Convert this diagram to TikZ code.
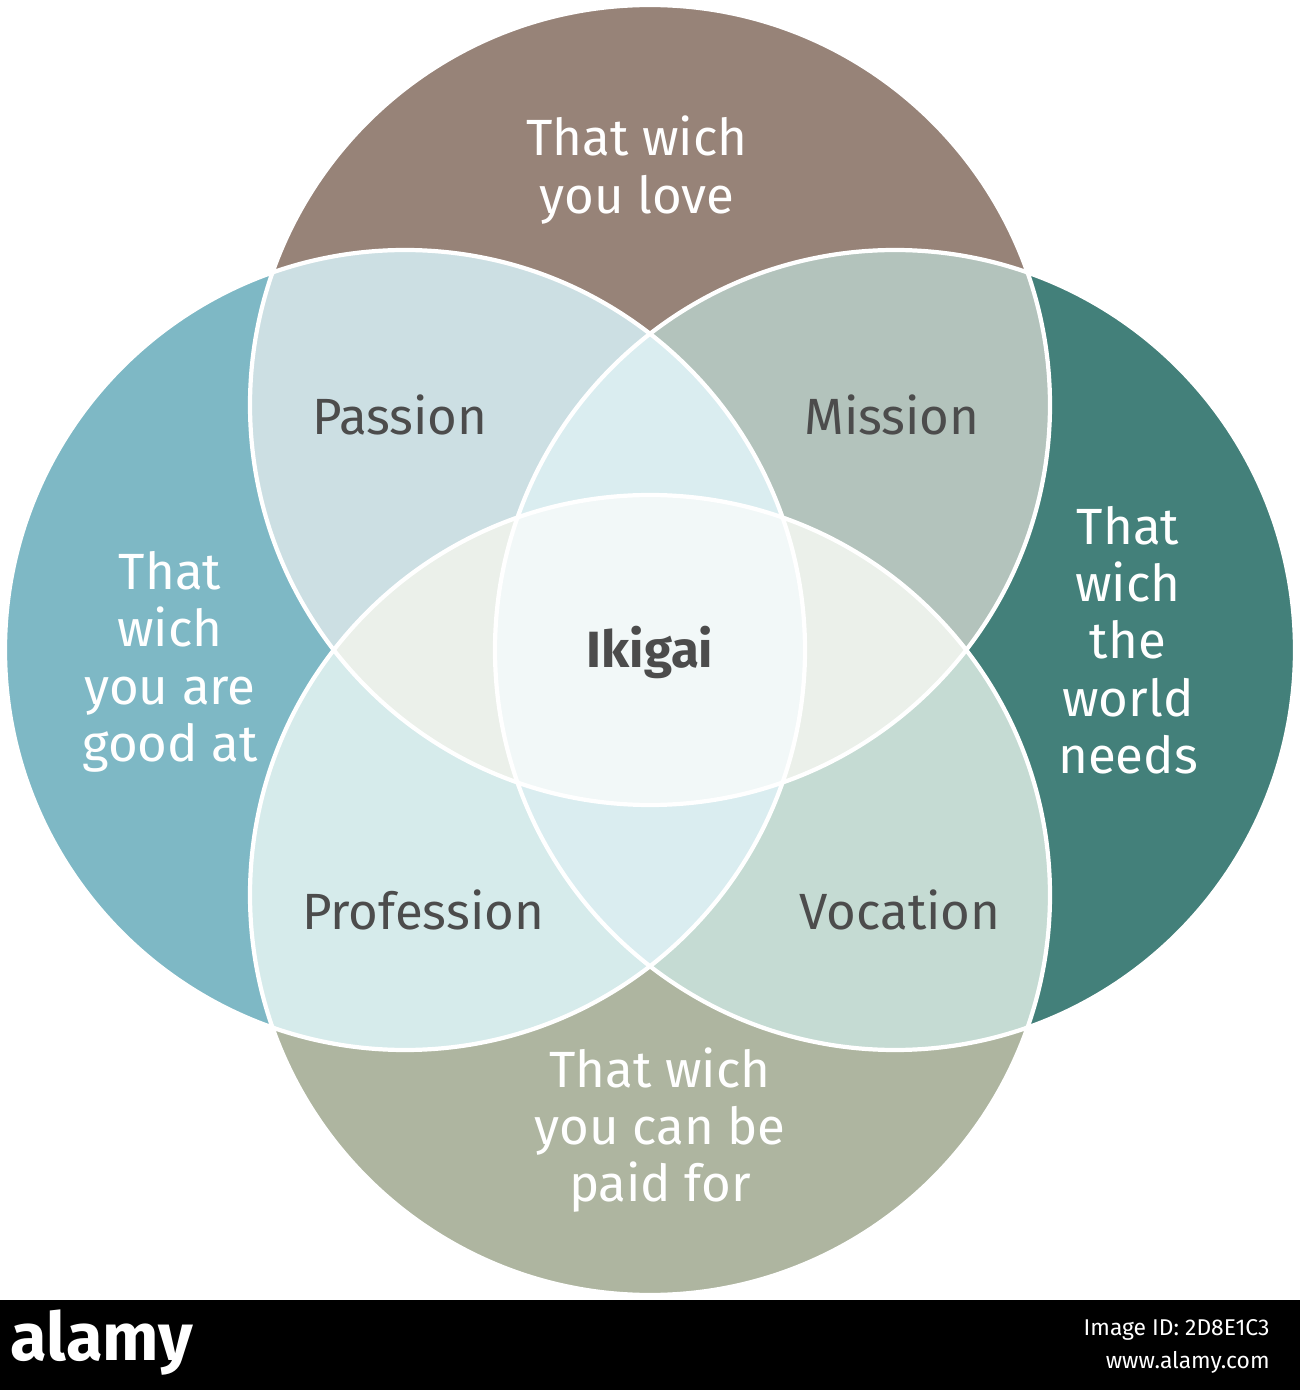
\documentclass[tikz,border=0pt]{standalone}
\usepackage{fontspec}
\setmainfont{Fira Sans}
\definecolor{love}{HTML}{978378}
\definecolor{good}{HTML}{7EB8C5}
\definecolor{world}{HTML}{43807A}
\definecolor{paid}{HTML}{AEB5A0}
\definecolor{passion}{HTML}{CCDFE3}
\definecolor{mission}{HTML}{B3C3BC}
\definecolor{profession}{HTML}{D6EBEB}
\definecolor{vocation}{HTML}{C5DBD3}
\definecolor{lensh}{HTML}{EBF0EA}
\definecolor{lensv}{HTML}{DAEDF0}
\definecolor{core}{HTML}{F2F8F8}
\tikzset{
	lbl/.style={align=center, font=\fontsize{14.5}{16.3}\selectfont},
	outer/.style={lbl, text=white},
	inner/.style={lbl, text=black!70},
}
\begin{document}
\begin{tikzpicture}
	\useasboundingbox (0, 0) rectangle (13, 13.9);
	\def\T{(6.5, 9.85) circle (4)}
	\def\L{(4.05, 7.4) circle (4)}
	\def\R{(8.95, 7.4) circle (4)}
	\def\B{(6.5, 4.95) circle (4)}

	\fill[love] \T;
	\fill[paid] \B;
	\fill[good] \L;
	\fill[world] \R;

	\begin{scope} \clip \T; \fill[passion] \L; \fill[mission] \R; \end{scope}
	\begin{scope} \clip \B; \fill[profession] \L; \fill[vocation] \R; \end{scope}
	\begin{scope} \clip \T; \fill[lensh] \B; \end{scope}
	\begin{scope} \clip \L; \fill[lensv] \R; \end{scope}
	\begin{scope} \clip \T; \clip \B; \clip \L; \fill[core] \R; \end{scope}

	\draw[white, line width=1.2pt] \T \L \R \B;

	\node[outer] (love) at (6.37, 12.2) {That wich\\you love};
	\node[outer] (good) at (1.7, 7.28) {That\\wich\\you are\\good at};
	\node[outer] (world) at (11.28, 7.5) {That\\wich\\the\\world\\needs};
	\node[outer] (paid) at (6.6, 2.6) {That wich\\you can be\\paid for};
	\node[inner] (passion) at (4, 9.75) {Passion};
	\node[inner] (mission) at (8.92, 9.75) {Mission};
	\node[inner] (profession) at (4.23, 4.8) {Profession};
	\node[inner] (vocation) at (9, 4.8) {Vocation};
	\node[inner, font=\fontsize{14.5}{16.3}\selectfont\bfseries] (ikigai) at (6.5, 7.38) {Ikigai};

	\fill[black] (0, 0) rectangle (13, 0.9);
	\node[white, font=\fontsize{19}{19}\selectfont\bfseries] (brand) at (1.02, 0.47) {alamy};
	\node[white, anchor=east, font=\fontsize{6.5}{8}\selectfont] (imgid) at (12.82, 0.6) {Image ID: 2D8E1C3};
	\node[white, anchor=east, font=\fontsize{6.5}{8}\selectfont] (site) at (12.82, 0.28) {www.alamy.com};
\end{tikzpicture}
\end{document}
